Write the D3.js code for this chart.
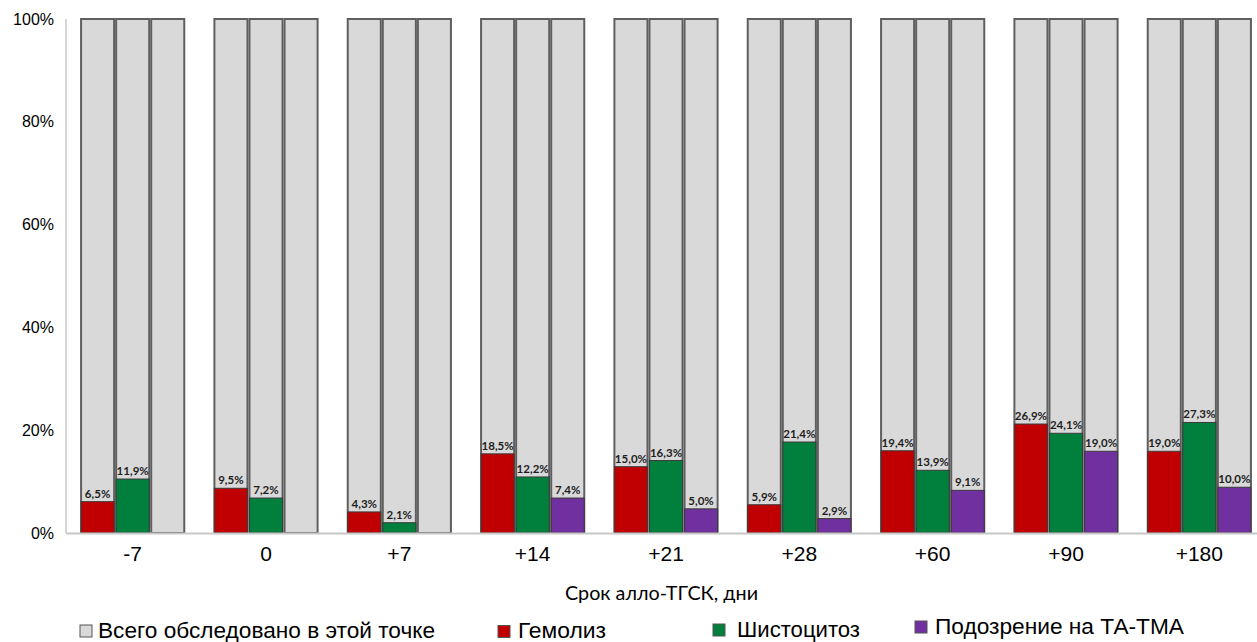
<!DOCTYPE html>
<html>
<head>
<meta charset="utf-8">
<script src="https://cdn.jsdelivr.net/npm/d3@7"></script>
<style>
  html, body { margin: 0; padding: 0; background: #fff; }
  svg { display: block; }
</style>
</head>
<body>
<svg id="chart" width="1257" height="642"></svg>
<script>
// ---- data ----
const categories = ["-7", "0", "+7", "+14", "+21", "+28", "+60", "+90", "+180"];
const totalName = "Всего обследовано в этой точке";
const seriesNames = ["Гемолиз", "Шистоцитоз", "Подозрение на ТА-ТМА"];
const totalValues = [100, 100, 100, 100, 100, 100, 100, 100, 100];
// bar heights (% of axis) as drawn
const hemolysis      = [6.1, 8.7, 4.1, 15.4, 12.9, 5.5, 16.0, 21.2, 15.9];
const schistocytosis = [10.5, 6.8, 2.0, 10.9, 14.1, 17.7, 12.2, 19.4, 21.5];
const taTma          = [null, null, null, 6.8, 4.7, 2.8, 8.3, 15.9, 8.9];
// data labels as printed
const hemolysisLabels      = ["6,5%", "9,5%", "4,3%", "18,5%", "15,0%", "5,9%", "19,4%", "26,9%", "19,0%"];
const schistocytosisLabels = ["11,9%", "7,2%", "2,1%", "12,2%", "16,3%", "21,4%", "13,9%", "24,1%", "27,3%"];
const taTmaLabels          = [null, null, null, "7,4%", "5,0%", "2,9%", "9,1%", "19,0%", "10,0%"];
const yTicks = [0, 20, 40, 60, 80, 100];
const yTickLabels = ["0%", "20%", "40%", "60%", "80%", "100%"];
const xTitle = "Срок алло-ТГСК, дни";

// ---- layout ----
const svg = d3.select("#chart");
const colors = ["#c00000", "#00803c", "#7030a0"];
const totalColor = "#d9d9d9";

const x0 = d3.scaleBand().domain(categories).range([66, 1266]).paddingInner(0.226).paddingOuter(0.113);
const x1 = d3.scaleBand().domain([0, 1, 2]).range([0, x0.bandwidth()]).paddingInner(0.057);
const y = d3.scaleLinear().domain([0, 100]).range([533, 19]);

const seriesValues = [hemolysis, schistocytosis, taTma];
const seriesLabels = [hemolysisLabels, schistocytosisLabels, taTmaLabels];

// y axis line
svg.append("line").attr("x1", 66).attr("x2", 66).attr("y1", y(100)).attr("y2", y(0))
  .attr("stroke", "#c8c8c8").attr("stroke-width", 1.5);

// y tick labels
const yAxis = d3.axisLeft(y).tickValues(yTicks).tickSize(0).tickPadding(12)
  .tickFormat((d, i) => yTickLabels[i]);
const gy = svg.append("g").attr("transform", "translate(66,0)").call(yAxis);
gy.select(".domain").remove();
gy.selectAll("text").attr("font-family", "'Liberation Sans', Arial, sans-serif")
  .attr("font-size", 16).attr("fill", "#000");

// groups
const groups = svg.append("g").selectAll("g").data(categories).join("g")
  .attr("transform", d => `translate(${x0(d)},0)`);

// gray total bars
groups.selectAll("rect.total").data((d, i) => [0, 1, 2].map(k => ({k, v: totalValues[i]})))
  .join("rect").attr("class", "total")
  .attr("x", d => x1(d.k)).attr("width", x1.bandwidth())
  .attr("y", d => y(d.v)).attr("height", d => y(0) - y(d.v))
  .attr("fill", totalColor).attr("stroke", "#5f5f5f").attr("stroke-width", 2);

// coloured bars
groups.selectAll("rect.val").data((d, i) => [0, 1, 2].map(k => ({k, v: seriesValues[k][i]})).filter(d => d.v != null))
  .join("rect").attr("class", "val")
  .attr("x", d => x1(d.k)).attr("width", x1.bandwidth())
  .attr("y", d => y(d.v)).attr("height", d => y(0) - y(d.v))
  .attr("fill", d => colors[d.k]).attr("stroke", "#3a3a3a").attr("stroke-width", 1);

// data labels
groups.selectAll("text.lbl").data((d, i) => [0, 1, 2].map(k => ({k, v: seriesValues[k][i], t: seriesLabels[k][i]})).filter(d => d.t != null))
  .join("text").attr("class", "lbl")
  .attr("x", d => x1(d.k) + x1.bandwidth() / 2)
  .attr("y", d => y(d.v) - 4)
  .attr("text-anchor", "middle")
  .attr("font-family", "Lato, 'Open Sans', sans-serif")
  .attr("font-weight", "bold").attr("font-size", 11.5).attr("fill", "#1e1e1e")
  .text(d => d.t);

// x axis baseline
svg.append("line").attr("x1", 66).attr("x2", 1257).attr("y1", y(0) + 0.5).attr("y2", y(0) + 0.5)
  .attr("stroke", "#c8c8c8").attr("stroke-width", 2);

// x tick labels
const xAxis = d3.axisBottom(x0).tickSize(0).tickPadding(0);
const gx = svg.append("g").attr("transform", `translate(0,${y(0)})`).call(xAxis);
gx.select(".domain").remove();
gx.selectAll("text").attr("font-family", "'Liberation Sans', Arial, sans-serif")
  .attr("font-size", 21).attr("fill", "#000").attr("dy", null).attr("y", 28);

// x title
svg.append("text").attr("x", 661.5).attr("y", 600).attr("text-anchor", "middle")
  .attr("font-family", "Lato, 'Open Sans', sans-serif").attr("font-size", 20).attr("fill", "#000")
  .attr("textLength", 193).attr("lengthAdjust", "spacingAndGlyphs")
  .text(xTitle);

// legend
const legendItems = [
  {name: totalName, color: totalColor, bx: 80, by: 625, tx: 98, ty: 637.5, w: 337},
  {name: seriesNames[0], color: colors[0], bx: 498, by: 625.5, tx: 518, ty: 637.5, w: 88},
  {name: seriesNames[1], color: colors[1], bx: 713, by: 624, tx: 737, ty: 636.5, w: 123},
  {name: seriesNames[2], color: colors[2], bx: 915, by: 621, tx: 935, ty: 633.5, w: 249}
];
const lg = svg.append("g").selectAll("g").data(legendItems).join("g");
lg.append("rect").attr("x", d => d.bx).attr("y", d => d.by).attr("width", 12).attr("height", 12)
  .attr("fill", d => d.color).attr("stroke", "#555").attr("stroke-width", 1);
lg.append("text").attr("x", d => d.tx).attr("y", d => d.ty)
  .attr("font-family", "'Liberation Sans', Arial, sans-serif").attr("font-size", 22).attr("fill", "#000")
  .attr("textLength", d => d.w).attr("lengthAdjust", "spacingAndGlyphs")
  .text(d => d.name);
</script>
</body>
</html>
